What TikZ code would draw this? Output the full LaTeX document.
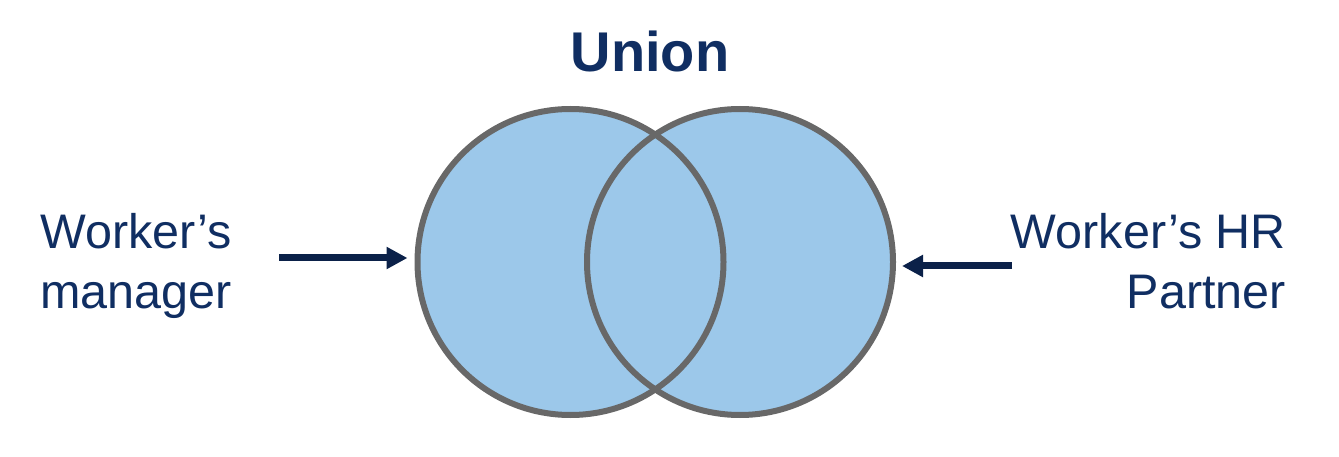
\documentclass[tikz,border=0pt]{standalone}
\usepackage{fontspec}
\setmainfont{Liberation Sans}
\usetikzlibrary{arrows.meta}
\definecolor{navytext}{HTML}{102E62}
\definecolor{navyarrow}{HTML}{0B2149}
\definecolor{vennfill}{HTML}{9CC8EA}
\definecolor{venndraw}{HTML}{686868}
\tikzset{
  venn/.style={circle, minimum size=306pt, inner sep=0pt, fill=vennfill},
  vennline/.style={circle, minimum size=306pt, inner sep=0pt, draw=venndraw, line width=6pt},
  label/.style={inner sep=0pt, text=navytext, font=\fontsize{48.5}{60}\selectfont},
  arr/.style={draw=navyarrow, line width=7pt, -{Triangle[length=21pt,width=21pt]}}
}
\begin{document}
\begin{tikzpicture}[x=1pt,y=-1pt]
\useasboundingbox (0,0) rectangle (1339,457);
\node[venn] (Lf) at (570.5,262) {};
\node[venn] (Rf) at (740,262) {};
\node[vennline] (L) at (570.5,262) {};
\node[vennline] (R) at (740,262) {};
\node[inner sep=0pt, text=navytext, font=\fontsize{56}{60}\selectfont\bfseries, anchor=north] (title) at (650,31) {Union};
\node[label, align=left, anchor=north west] (wm) at (40,213) {Worker’s\\manager};
\node[label, align=right, anchor=north east] (hr) at (1286,213) {Worker’s HR\\Partner};
\coordinate (a1) at (279,258);
\coordinate (a2) at (1012,266);
\draw[arr, shorten >=7pt] (a1) -- (a1 -| L.west);
\draw[arr, shorten >=6pt] (a2) -- (a2 -| R.east);
\end{tikzpicture}
\end{document}
